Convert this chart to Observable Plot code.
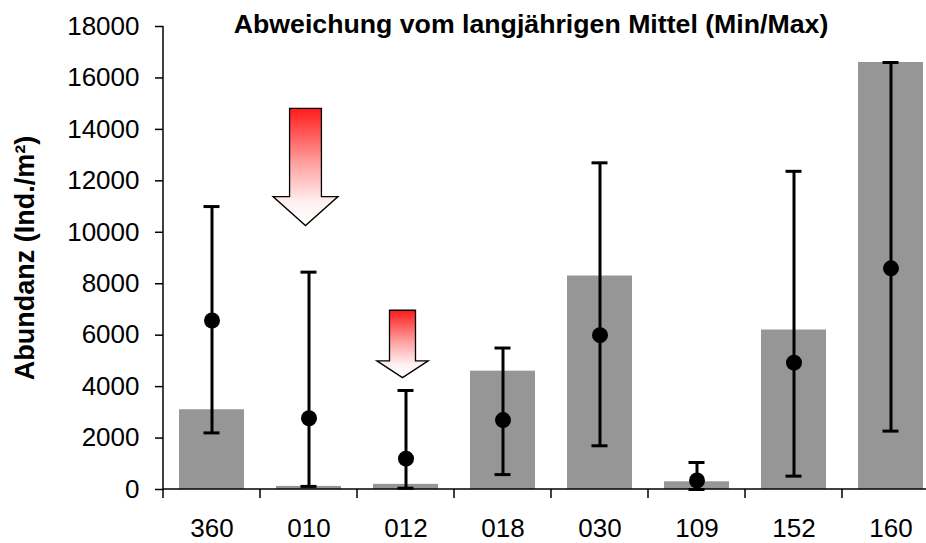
<!DOCTYPE html>
<html>
<head>
<meta charset="utf-8">
<script src="https://cdn.jsdelivr.net/npm/d3@7"></script>
<script src="https://cdn.jsdelivr.net/npm/@observablehq/plot@0.6"></script>
<style>
  html, body { margin: 0; padding: 0; background: #fff; }
  #chart svg { overflow: hidden; }
</style>
</head>
<body>
<div id="chart"></div>
<script>
// ---- data ----
const categories = ["360", "010", "012", "018", "030", "109", "152", "160"];
const barValues  = [3100, 120, 200, 4600, 8300, 300, 6200, 16600];   // grey bars
const meanValues = [6570, 2770, 1200, 2700, 6000, 350, 4930, 8600];  // black dots
const minValues  = [2200, 120, 50, 580, 1700, 0, 520, 2270];
const maxValues  = [11000, 8450, 3850, 5500, 12700, 1050, 12370, 16600];
const yTicks = [0, 2000, 4000, 6000, 8000, 10000, 12000, 14000, 16000, 18000];
const titleText = "Abweichung vom langjährigen Mittel (Min/Max)";
const yLabel = "Abundanz (Ind./m²)";
// annotation arrows (downward): category, top, head base, tip values
const arrowCats  = ["010", "012"];
const arrowTop   = [14800, 6950];
const arrowNeck  = [11370, 4980];
const arrowTip   = [10240, 4330];

const rows = categories.map((c, i) => ({
  cat: c, bar: barValues[i], mean: meanValues[i], min: minValues[i], max: maxValues[i]
}));
const arrows = arrowCats.map((c, i) => ({
  cat: c, top: arrowTop[i], neck: arrowNeck[i], tip: arrowTip[i]
}));

// arrow shape style (fractions of the bar width)
const arrowShaft = [0.49, 0.40];
const arrowHead  = [1.0, 0.79];

const W = 926, H = 543, ML = 163, MT = 26, MB = 54;

function arrowMark(index, scales, values, dimensions) {
  const x = scales.x, y = scales.y;
  const bw = x.bandwidth ? x.bandwidth() : 65;
  const g = d3.create("svg:g");
  const defs = g.append("defs");
  const grad = defs.append("linearGradient")
    .attr("id", "redfade").attr("x1", 0).attr("y1", 0).attr("x2", 0).attr("y2", 1);
  grad.append("stop").attr("offset", "0%").attr("stop-color", "#ff1a1a");
  grad.append("stop").attr("offset", "45%").attr("stop-color", "#ff9c9c");
  grad.append("stop").attr("offset", "80%").attr("stop-color", "#fff0f0");
  grad.append("stop").attr("offset", "100%").attr("stop-color", "#ffffff");
  arrows.forEach((a, i) => {
    const cx = x(a.cat) + bw / 2 - 3;
    const s = arrowShaft[i] * bw / 2, h = arrowHead[i] * bw / 2;
    const yt = y(a.top), yn = y(a.neck), yp = y(a.tip);
    const pts = [[cx - s, yt], [cx + s, yt], [cx + s, yn], [cx + h, yn],
                 [cx, yp], [cx - h, yn], [cx - s, yn]];
    g.append("path")
      .attr("d", "M" + pts.map(p => p.join(",")).join("L") + "Z")
      .attr("fill", "url(#redfade)")
      .attr("stroke", "#000")
      .attr("stroke-width", 1.3);
  });
  return g.node();
}

function axisLines(index, scales, values, dimensions) {
  const x = scales.x;
  const step = x.step ? x.step() : 97;
  const bw = x.bandwidth ? x.bandwidth() : 65;
  const y0 = scales.y(0);
  const g = d3.create("svg:g").attr("stroke", "#000").attr("stroke-width", 1.5);
  g.append("line").attr("x1", ML).attr("x2", ML)
    .attr("y1", scales.y(18000)).attr("y2", y0);
  g.append("line").attr("x1", ML).attr("x2", W).attr("y1", y0).attr("y2", y0);
  categories.forEach(c => {
    const xe = x(c) + bw / 2 - step / 2;
    g.append("line").attr("x1", xe).attr("x2", xe).attr("y1", y0).attr("y2", y0 + 9);
  });
  return g.node();
}

const chart = Plot.plot({
  width: W,
  height: H,
  marginLeft: ML,
  marginRight: 0,
  marginTop: MT,
  marginBottom: MB,
  style: { fontFamily: "'Liberation Sans', Arial, sans-serif", background: "#fff" },
  x: { domain: categories, range: [ML, ML + 8 * 97.1], paddingInner: 0.33, paddingOuter: 0.165, label: null },
  y: { domain: [0, 18000], label: null },
  marks: [
    Plot.barY(rows, { x: "cat", y: "bar", fill: "#969696" }),
    Plot.ruleX(rows, { x: "cat", y1: "min", y2: "max", stroke: "#000", strokeWidth: 3 }),
    Plot.tickY(rows, { x: "cat", y: "max", stroke: "#000", strokeWidth: 3, insetLeft: 24.5, insetRight: 24.5 }),
    Plot.tickY(rows, { x: "cat", y: "min", stroke: "#000", strokeWidth: 3, insetLeft: 24.5, insetRight: 24.5 }),
    Plot.dot(rows, { x: "cat", y: "mean", r: 8, fill: "#000", stroke: null }),
    arrowMark,
    axisLines,
    Plot.axisY({ ticks: yTicks, tickFormat: d3.format("d"), tickSize: 8, tickPadding: 16,
                 fontSize: 26, label: null, strokeWidth: 1.5 }),
    Plot.axisX({ tickSize: 0, tickPadding: 29, fontSize: 26, label: null }),
    Plot.text([titleText], { frameAnchor: "top", dx: -14, dy: -2, fontSize: 26.7,
                             fontWeight: "bold", lineAnchor: "middle", textAnchor: "middle", fill: "#000" }),
    Plot.text([yLabel], { frameAnchor: "left", rotate: -90, dx: -138, fontSize: 27,
                          fontWeight: "bold", textAnchor: "middle", lineAnchor: "middle", fill: "#000" })
  ]
});
document.getElementById("chart").appendChild(chart);
</script>
</body>
</html>
